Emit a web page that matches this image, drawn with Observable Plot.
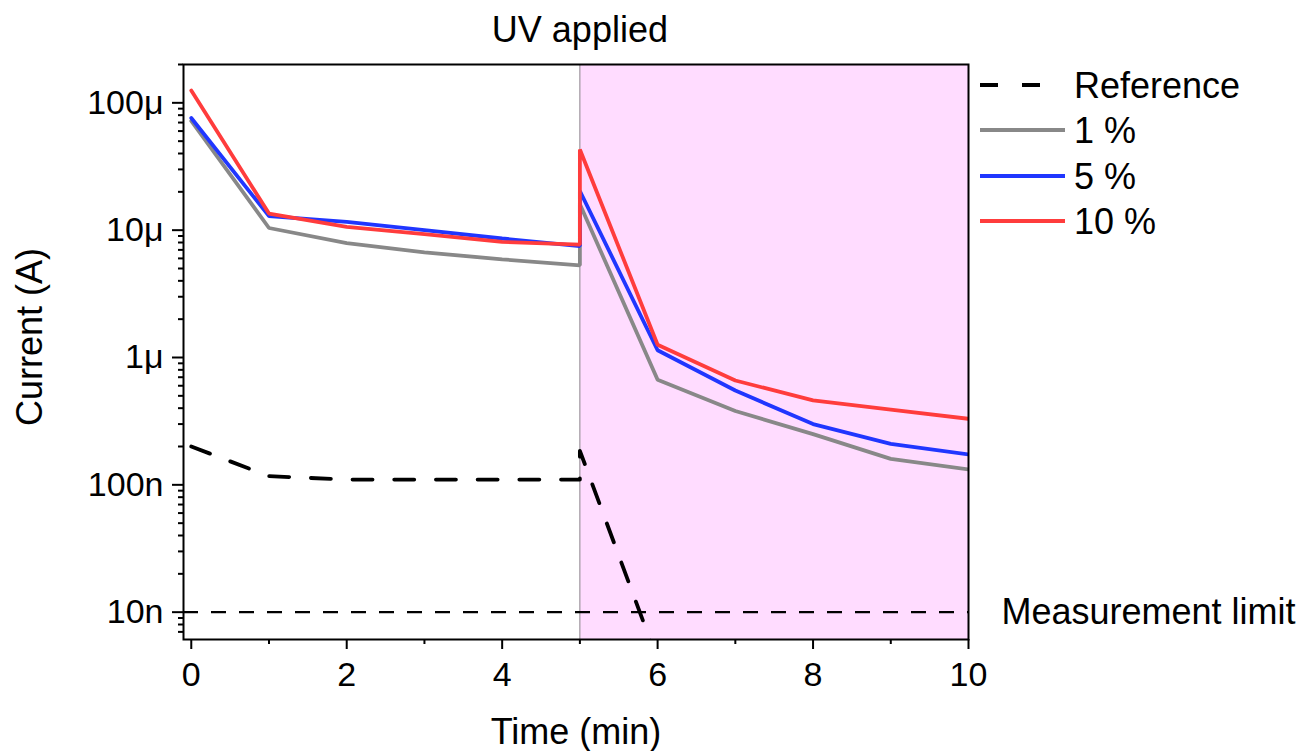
<!DOCTYPE html>
<html><head><meta charset="utf-8">
<script src="https://cdn.jsdelivr.net/npm/d3@7"></script>
<script src="https://cdn.jsdelivr.net/npm/@observablehq/plot@0.6"></script>
<style>
body{margin:0;background:#fff;}
#wrap{position:relative;width:1306px;height:751px;font-family:"Liberation Sans",Arial,sans-serif;}
.lbl{position:absolute;font-size:36px;color:#000;white-space:nowrap;line-height:1;}
</style></head><body><div id="wrap"></div>
<script>
// Time (min); 5 appears twice: before and after UV is switched on
const time = [0, 1, 2, 3, 4, 5, 5, 6, 7, 8, 9, 10];
const pct1 = [7.2e-5, 1.04e-5, 7.9e-6, 6.7e-6, 5.9e-6, 5.3e-6, 1.6e-5, 6.7e-7, 3.8e-7, 2.5e-7, 1.6e-7, 1.32e-7];
const pct5 = [7.6e-5, 1.29e-5, 1.16e-5, 1.0e-5, 8.6e-6, 7.5e-6, 2.03e-5, 1.14e-6, 5.5e-7, 3.0e-7, 2.1e-7, 1.73e-7];
const pct10 = [1.25e-4, 1.35e-5, 1.06e-5, 9.3e-6, 8.1e-6, 7.7e-6, 4.3e-5, 1.26e-6, 6.6e-7, 4.6e-7, 3.9e-7, 3.3e-7];
const refTime = [0, 1, 2, 3, 4, 5, 5, 6];
const reference = [2.0e-7, 1.17e-7, 1.1e-7, 1.1e-7, 1.1e-7, 1.1e-7, 1.85e-7, 4.2e-9];
const measurementLimit = 1e-8;
const uvStart = 5, uvEnd = 10;

const yTicks = [1e-8, 1e-7, 1e-6, 1e-5, 1e-4];
const yTickLabels = ["10n", "100n", "1μ", "10μ", "100μ"];
const xMajor = [0, 2, 4, 6, 8, 10];
const xMinor = [1, 3, 5, 7, 9];

const series = [
  {name: "1 %", values: pct1, color: "#888888"},
  {name: "5 %", values: pct5, color: "#2036ff"},
  {name: "10 %", values: pct10, color: "#ff3c3c"}
];

const yDomain = [6.1e-9, 2e-4];
const yMinor = [];
for (let d = -9; d <= -4; d++) for (let m = 2; m <= 9; m++) {
  const v = m * Math.pow(10, d);
  if (v >= yDomain[0] && v <= yDomain[1]) yMinor.push(v);
}

const lineMarks = series.map(s => Plot.line(time.map((t, i) => ({t, v: s.values[i]})),
  {x: "t", y: "v", stroke: s.color, strokeWidth: 3.8, clip: true, strokeLinejoin: "miter"}));

const chart = Plot.plot({
  width: 1306, height: 751,
  marginLeft: 183, marginRight: 338, marginTop: 64, marginBottom: 112,
  style: {fontFamily: "'Liberation Sans', Arial, sans-serif", fontSize: "34px", color: "#000", background: "#fff"},
  x: {type: "linear", domain: [-0.1, 10]},
  y: {type: "log", domain: yDomain},
  marks: [
    Plot.rect([{}], {x1: uvStart, x2: uvEnd, y1: yDomain[0], y2: yDomain[1], fill: "#ffdcff"}),
    Plot.ruleX([uvStart], {stroke: "#8a8a8a", strokeWidth: 1}),
    Plot.ruleY([measurementLimit], {stroke: "#000", strokeWidth: 2.2, strokeDasharray: "15,13"}),
    Plot.line(refTime.map((t, i) => ({t, v: reference[i]})),
      {x: "t", y: "v", stroke: "#000", strokeWidth: 3.8, strokeDasharray: "20,21.7", clip: true}),
    ...lineMarks,
    Plot.frame({stroke: "#000", strokeWidth: 2}),
    Plot.axisY(yTicks, {tickSize: 11, tickPadding: 9, strokeWidth: 2, tickFormat: (d) => yTickLabels[yTicks.indexOf(d)], label: null}),
    Plot.axisY(yMinor, {tickSize: 5, strokeWidth: 2, tickFormat: () => "", label: null}),
    Plot.axisX(xMajor, {tickSize: 10, tickPadding: 12, strokeWidth: 2, tickFormat: d => String(d), label: null}),
    Plot.axisX(xMinor, {tickSize: 5, strokeWidth: 2, tickFormat: () => "", label: null}),
    Plot.text(["Measurement limit"], {x: uvEnd, y: measurementLimit, dx: 33, textAnchor: "start", fontSize: 36}),
    Plot.text(["UV applied"], {x: uvStart, y: yDomain[1], dy: -34, lineAnchor: "middle", fontSize: 36})
  ]
});

const wrap = document.getElementById("wrap");
wrap.appendChild(chart);

function addLabel(text, left, top, extra) {
  const el = document.createElement("div");
  el.className = "lbl";
  el.textContent = text;
  el.style.left = left + "px";
  el.style.top = top + "px";
  if (extra) Object.assign(el.style, extra);
  wrap.appendChild(el);
  return el;
}
// Axis titles
addLabel("Time (min)", 0, 714, {width: "1152px", textAlign: "center"});
addLabel("Current (A)", 30, 337, {transform: "translate(-50%,-50%) rotate(-90deg)"});

// Legend
const legendItems = [
  {name: "Reference", color: "#000", dash: "18,24", x2: 1043, y: 85},
  ...series.map((s, i) => ({name: s.name, color: s.color, dash: null, x2: 1065, y: [130, 176, 221][i]}))
];
const ns = "http://www.w3.org/2000/svg";
const lsvg = document.createElementNS(ns, "svg");
lsvg.setAttribute("width", 1306); lsvg.setAttribute("height", 751);
lsvg.style.position = "absolute"; lsvg.style.left = "0"; lsvg.style.top = "0";
for (const it of legendItems) {
  const ln = document.createElementNS(ns, "line");
  ln.setAttribute("x1", 980); ln.setAttribute("x2", it.x2);
  ln.setAttribute("y1", it.y); ln.setAttribute("y2", it.y);
  ln.setAttribute("stroke", it.color); ln.setAttribute("stroke-width", 3.8);
  if (it.dash) ln.setAttribute("stroke-dasharray", it.dash);
  lsvg.appendChild(ln);
  const tx = document.createElementNS(ns, "text");
  tx.setAttribute("x", 1074); tx.setAttribute("y", it.y + 13);
  tx.setAttribute("font-size", 36);
  tx.setAttribute("font-family", "'Liberation Sans', Arial, sans-serif");
  tx.textContent = it.name;
  lsvg.appendChild(tx);
}
wrap.appendChild(lsvg);
</script></body></html>
